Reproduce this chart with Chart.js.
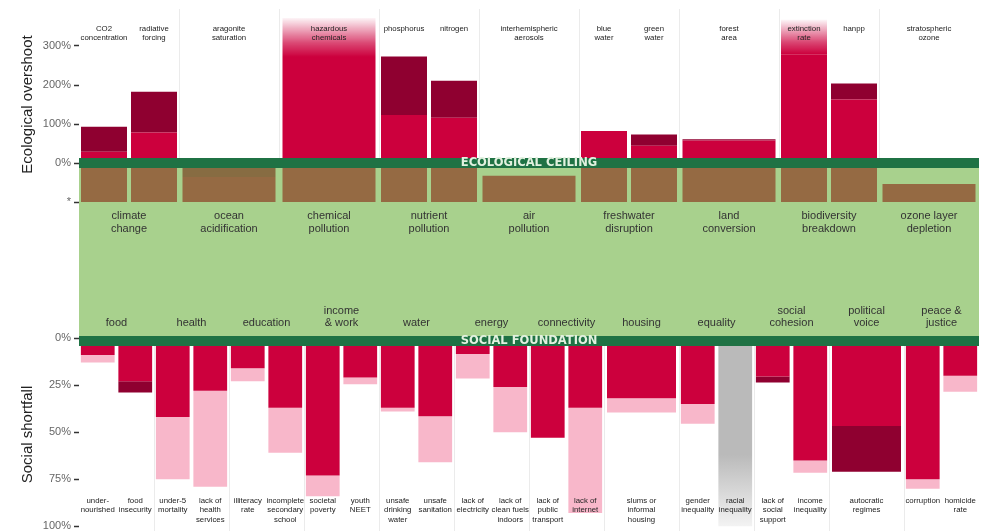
<!DOCTYPE html>
<html><head><meta charset="utf-8">
<script src="https://cdn.jsdelivr.net/npm/chart.js@4/dist/chart.umd.min.js"></script>
<style>html,body{margin:0;padding:0;background:#fff}#wrap{width:1000px;height:531px;position:relative}</style>
</head><body><div id="wrap"><canvas id="c"></canvas></div>
<script>
// ---------- DATA ----------
const ecoDimensions = [['climate','change'],['ocean','acidification'],['chemical','pollution'],['nutrient','pollution'],['air','pollution'],['freshwater','disruption'],['land','conversion'],['biodiversity','breakdown'],['ozone layer','depletion']];
const ecoIndicators = [['CO2','concentration'],['radiative','forcing'],['aragonite','saturation'],['hazardous','chemicals'],['phosphorus'],['nitrogen'],['interhemispheric','aerosols'],['blue','water'],['green','water'],['forest','area'],['extinction','rate'],['hanpp'],['stratospheric','ozone']];
const ecoIndicatorDimension = [0,0,1,2,3,3,4,5,5,6,7,7,8];
const ecoOvershoot2000 = [29,78,-36,272,123,116,-33,82,44,58,279,163,-54];
const ecoOvershoot2017 = [93,183,-13,272,273,211,-33,82,73,61,279,204,-54];
const ecoFadeTop = [null,null,null,372,null,null,null,null,null,null,367,null,null];

const socialDimensions = [['food'],['health'],['education'],['income','& work'],['water'],['energy'],['connectivity'],['housing'],['equality'],['social','cohesion'],['political','voice'],['peace &','justice']];
const socialIndicators = [['under-','nourished'],['food','insecurity'],['under-5','mortality'],['lack of','health','services'],['illiteracy','rate'],['incomplete','secondary','school'],['societal','poverty'],['youth','NEET'],['unsafe','drinking','water'],['unsafe','sanitation'],['lack of','electricity'],['lack of','clean fuels','indoors'],['lack of','public','transport'],['lack of','internet'],['slums or','informal','housing'],['gender','inequality'],['racial','inequality'],['lack of','social','support'],['income','inequality'],['autocratic','regimes'],['corruption'],['homicide','rate']];
const socialIndicatorDimension = [0,0,1,1,2,2,3,3,4,4,5,5,6,6,7,8,8,9,9,10,11,11];
const socialShortfall2000 = [13,23,75,79,23,61,84,24.5,39,66,21.5,50,null,93,39.5,45.6,null,20.5,71.6,46.8,80,28.5];
const socialShortfall2017 = [9,29,42,28,16,37,73,21,37,41.5,8.5,26,53,37,32,35,null,23.6,65,71,75,20];
const socialUnknown = [false,false,false,false,false,false,false,false,false,false,false,false,false,false,false,false,true,false,false,false,false,false];

const ecoTicks = [-100,0,100,200,300];
const ecoTickLabels = ['*','0%','100%','200%','300%'];
const socialTicks = [0,25,50,75,100];
const socialTickLabels = ['0%','25%','50%','75%','100%'];

// ---------- STYLE ----------
const RED='#cc003d', DARK='#8f0030', PINK='#f8b7ca', BROWN='#956a43', OLIVE='#876c42', GRAY='#bababa';
const LIGHTGREEN='#a8d18d', DARKGREEN='#1f7244';
const FONT='"Liberation Sans", Arial, sans-serif';

function assignSlots(dimIdx, n){
  const count=Array(n).fill(0); dimIdx.forEach(d=>count[d]++);
  const seen=Array(n).fill(0);
  return dimIdx.map(d=>count[d]===1?-1:seen[d]++);
}
const ecoSlot = assignSlots(ecoIndicatorDimension, ecoDimensions.length);
const socialSlot = assignSlots(socialIndicatorDimension, socialDimensions.length);
const empty = n => Array(n).fill(null);
const nE=ecoDimensions.length, nS=socialDimensions.length;
const ecoPos = i => ecoSlot[i]<0 ? {ax:'xeS',k:ecoIndicatorDimension[i]} : {ax:'xeP',k:ecoIndicatorDimension[i]*2+ecoSlot[i]};
const socPos = i => socialSlot[i]<0 ? {ax:'xsS',k:socialIndicatorDimension[i]} : {ax:'xsP',k:socialIndicatorDimension[i]*2+socialSlot[i]};

function fadeColor(c){
  const chart=c.chart, v=c.raw;
  if(!v||!chart.chartArea) return RED;
  const y=chart.scales[c.dataset.yAxisID];
  const g=chart.ctx.createLinearGradient(0,y.getPixelForValue(v[0]),0,y.getPixelForValue(v[1]));
  g.addColorStop(0,RED); g.addColorStop(0.35,'rgba(204,0,61,0.72)'); g.addColorStop(1,'rgba(204,0,61,0.04)');
  return g;
}
function unknownColor(c){
  const chart=c.chart, v=c.raw;
  if(!v||!chart.chartArea) return GRAY;
  const y=chart.scales[c.dataset.yAxisID];
  const g=chart.ctx.createLinearGradient(0,y.getPixelForValue(v[0]),0,y.getPixelForValue(v[1]));
  g.addColorStop(0,GRAY); g.addColorStop(0.62,GRAY); g.addColorStop(1,'#f3f3f3');
  return g;
}

const datasets=[];
[['xeP',nE*2,0.92],['xeS',nE,0.93]].forEach(([ax,n,bar])=>{
  const L={brown:empty(n),brownChange:empty(n),base:empty(n),change:empty(n),fade:empty(n)};
  const changeCol=empty(n);
  ecoIndicators.forEach((_,i)=>{
    const p=ecoPos(i); if(p.ax!==ax) return;
    const k=p.k, a=ecoOvershoot2000[i], b=ecoOvershoot2017[i];
    const lo=Math.min(a,b), hi=Math.max(a,b);
    L.brown[k]=[-100,Math.min(lo,0)];
    if(hi<0 && hi>lo) L.brownChange[k]=[lo,hi];
    if(hi>0){
      L.base[k]=[0,Math.max(lo,0)];
      if(hi>lo){ L.change[k]=[Math.max(lo,0),hi]; changeCol[k]= b>a?DARK:PINK; }
    }
    if(ecoFadeTop[i]!=null) L.fade[k]=[b,ecoFadeTop[i]];
  });
  const mk=(data,bg)=>({data,backgroundColor:bg,xAxisID:ax,yAxisID:'ye',grouped:false,categoryPercentage:1,barPercentage:bar,borderWidth:0});
  datasets.push(mk(L.brown,BROWN), mk(L.brownChange,OLIVE), mk(L.base,RED), mk(L.change,changeCol), mk(L.fade,fadeColor));
});
[['xsP',nS*2,0.9],['xsS',nS,0.92]].forEach(([ax,n,bar])=>{
  const base=empty(n), change=empty(n), changeCol=empty(n), unk=empty(n);
  socialIndicators.forEach((_,i)=>{
    const p=socPos(i); if(p.ax!==ax) return;
    const k=p.k, a=socialShortfall2000[i], b=socialShortfall2017[i];
    if(socialUnknown[i]){ unk[k]=[0,100]; return; }
    if(a==null){ base[k]=[0,b]; return; }
    const lo=Math.min(a,b), hi=Math.max(a,b);
    base[k]=[0,lo];
    if(hi>lo){ change[k]=[lo,hi]; changeCol[k]= b>a?DARK:PINK; }
  });
  const mk=(data,bg)=>({data,backgroundColor:bg,xAxisID:ax,yAxisID:'ys',grouped:false,categoryPercentage:1,barPercentage:bar,borderWidth:0});
  datasets.push(mk(base,RED), mk(change,changeCol), mk(unk,unknownColor));
});

function elementX(chart, ax, k){
  const ds=chart.data.datasets;
  for(let j=0;j<ds.length;j++){
    if(ds[j].xAxisID===ax && ds[j].data[k]!=null){
      const el=chart.getDatasetMeta(j).data[k]; if(el) return el.x;
    }
  }
  return chart.scales[ax].getPixelForValue(k);
}
const deco={
  id:'deco',
  beforeDatasetsDraw(chart){
    const {ctx,chartArea:ca,scales}=chart;
    const ye0=scales.ye.getPixelForValue(0), ys0=scales.ys.getPixelForValue(0);
    ctx.save();
    ctx.strokeStyle='#ebebeb'; ctx.lineWidth=1;
    const xe=scales.xeS, xs=scales.xsS;
    const ew=(xe.right-xe.left)/nE;
    for(let k=1;k<nE;k++){const x=Math.round(xe.left+k*ew)+0.5;ctx.beginPath();ctx.moveTo(x,ca.top+2);ctx.lineTo(x,ye0);ctx.stroke();}
    const sw=(xs.right-xs.left)/nS;
    for(let k=1;k<nS;k++){const x=Math.round(xs.left+k*sw)+0.5;ctx.beginPath();ctx.moveTo(x,ys0);ctx.lineTo(x,ca.bottom);ctx.stroke();}
    ctx.fillStyle=LIGHTGREEN;
    ctx.fillRect(ca.left,ye0-5,ca.right-ca.left,(ys0+8)-(ye0-5));
    ctx.restore();
  },
  afterDatasetsDraw(chart){
    const {ctx,chartArea:ca,scales}=chart;
    const ye=scales.ye, ys=scales.ys;
    const ye0=ye.getPixelForValue(0), ys0=ys.getPixelForValue(0);
    const cx=(ca.left+ca.right)/2;
    ctx.save();
    ctx.fillStyle=DARKGREEN;
    ctx.fillRect(ca.left,ye0-5,ca.right-ca.left,10);
    ctx.fillRect(ca.left,ys0-2,ca.right-ca.left,10);
    ctx.fillStyle='#e2f1df';
    ctx.font='bold 11.5px "DejaVu Sans", Verdana, sans-serif';
    ctx.textAlign='center'; ctx.textBaseline='middle';
    ctx.fillText('ECOLOGICAL CEILING',cx,ye0+0.5);
    ctx.fillText('SOCIAL FOUNDATION',cx,ys0+3.5);
    ctx.fillStyle='#333'; ctx.font='11px '+FONT;
    const yStar=ye.getPixelForValue(-100);
    ecoDimensions.forEach((lines,d)=>{
      const x=scales.xeS.getPixelForValue(d);
      lines.forEach((t,j)=>ctx.fillText(t,x,yStar+14+j*12.5));
    });
    socialDimensions.forEach((lines,d)=>{
      const x=scales.xsS.getPixelForValue(d);
      const n=lines.length;
      lines.forEach((t,j)=>ctx.fillText(t,x,ys0-15-(n-1-j)*12));
    });
    ctx.fillStyle='#222'; ctx.font='7.8px '+FONT;
    ecoIndicators.forEach((lines,i)=>{
      const p=ecoPos(i), x=elementX(chart,p.ax,p.k);
      lines.forEach((t,j)=>ctx.fillText(t,x,ca.top+22+j*9));
    });
    socialIndicators.forEach((lines,i)=>{
      const p=socPos(i), x=elementX(chart,p.ax,p.k);
      lines.forEach((t,j)=>ctx.fillText(t,x,ca.bottom-30+j*9.3));
    });
    ctx.restore();
  }
};

const fitW = s => { s.width = 79; s.paddingTop = 0; s.paddingBottom = 0; };
const tickStyle = {color:'#666',font:{size:11,family:FONT},padding:3};
const gridStyle = {display:true,drawOnChartArea:false,drawTicks:true,tickLength:5,tickColor:'#333',tickWidth:1.5};
const hiddenX = labels => ({type:'category',labels,display:false,offset:true});
const idx = n => Array.from({length:n},(_,i)=>String(i));

new Chart(document.getElementById('c'),{
  type:'bar',
  data:{labels:idx(nE),datasets},
  plugins:[deco],
  options:{
    responsive:true,maintainAspectRatio:false,animation:false,
    layout:{padding:{top:7,right:21,bottom:0,left:0},autoPadding:false},
    plugins:{legend:{display:false},tooltip:{enabled:false}},
    scales:{
      xeP:hiddenX(idx(nE*2)),
      xeS:hiddenX(ecoDimensions.map(l=>l.join(' '))),
      xsP:hiddenX(idx(nS*2)),
      xsS:hiddenX(socialDimensions.map(l=>l.join(' '))),
      ye:{type:'linear',position:'left',stack:'left',stackWeight:195,weight:2,min:-100,max:400,stacked:false,
        afterBuildTicks:s=>{s.ticks=ecoTicks.map(v=>({value:v}));},
        afterFit:fitW,
        ticks:{...tickStyle,callback:v=>ecoTickLabels[ecoTicks.indexOf(v)]},
        grid:gridStyle,border:{display:false},
        title:{display:true,text:'Ecological overshoot',color:'#222',font:{size:15,family:FONT},padding:{top:19,bottom:0}}},
      ym:{type:'linear',position:'left',stack:'left',stackWeight:136,weight:1,min:0,max:1,
        afterBuildTicks:s=>{s.ticks=[];},afterFit:fitW,
        ticks:{display:false},grid:{display:false},border:{display:false}},
      ys:{type:'linear',position:'left',stack:'left',stackWeight:193,weight:0,min:0,max:102.5,reverse:true,stacked:false,
        afterBuildTicks:s=>{s.ticks=socialTicks.map(v=>({value:v}));},
        afterFit:fitW,
        ticks:{...tickStyle,callback:v=>socialTickLabels[socialTicks.indexOf(v)]},
        grid:gridStyle,border:{display:false},
        title:{display:true,text:'Social shortfall',color:'#222',font:{size:15,family:FONT},padding:{top:19,bottom:0}}}
    }
  }
});
</script></body></html>
